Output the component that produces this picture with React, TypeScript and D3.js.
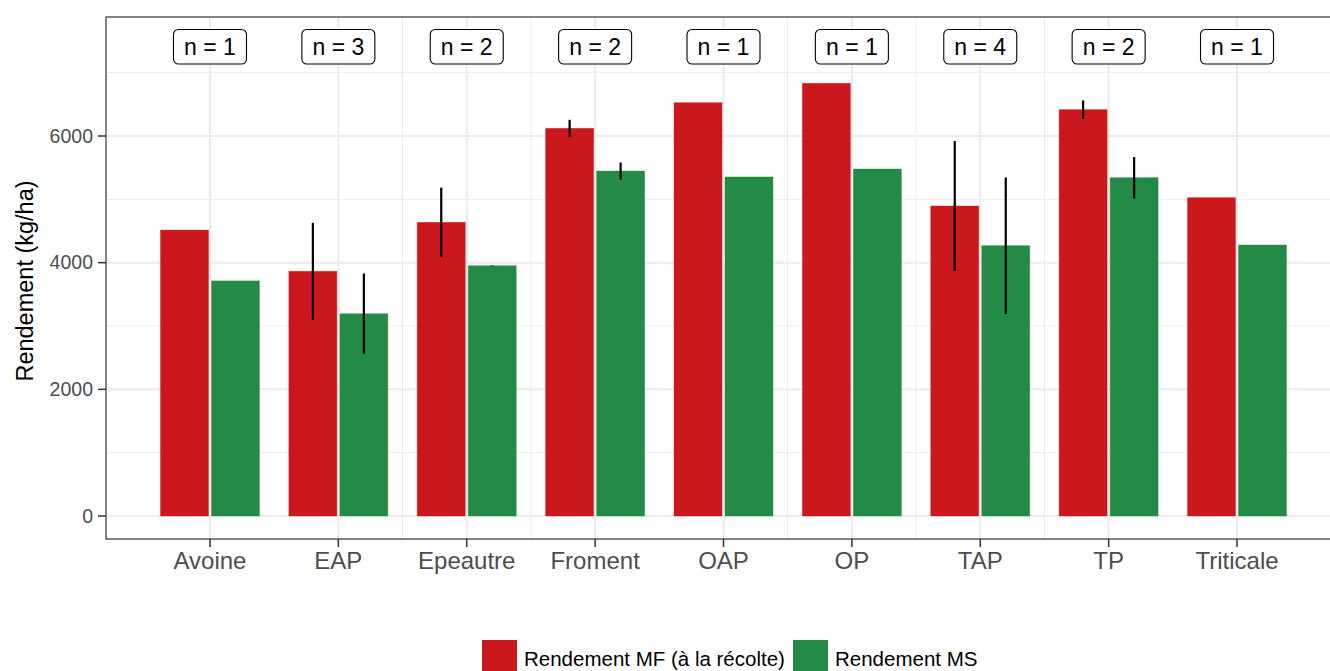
import React from "react";
import * as d3 from "d3";

const categories = ["Avoine", "EAP", "Epeautre", "Froment", "OAP", "OP", "TAP", "TP", "Triticale"];
const mfValues = [4515, 3864, 4637, 6121, 6526, 6832, 4895, 6416, 5026];
const msValues = [3712, 3194, 3952, 5447, 5353, 5479, 4268, 5342, 4279];
const mfSd = [0, 765, 548, 135, 0, 0, 1025, 145, 0];
const msSd = [0, 635, 4, 135, 0, 0, 1078, 325, 0];
const nLabels = ["n = 1", "n = 3", "n = 2", "n = 2", "n = 1", "n = 1", "n = 4", "n = 2", "n = 1"];
const yTicks = [0, 2000, 4000, 6000];
const yMinor = [1000, 3000, 5000, 7000];
const minorGridAfter = ["EAP", "Epeautre", "OAP", "OP", "TAP"];
const seriesNames = ["Rendement MF (à la récolte)", "Rendement MS"];
const seriesColors = ["#CB181D", "#238B45"];

const W = 1330, H = 671;
const panel = { left: 106, right: 1341, top: 17, bottom: 539 };
const FONT = "'Liberation Sans', Arial, Helvetica, sans-serif";

export default function App() {
  const x = d3.scalePoint<string>().domain(categories).range([panel.left, panel.right]).padding(0.81);
  const step = x.step();
  const y = d3.scaleLinear().domain([0, 6000]).range([516, 136]);
  const barW = 48;
  const gap = 1.5;
  const minorX = minorGridAfter.map((c) => (x(c) as number) + step / 2);

  const series = [
    { vals: mfValues, sd: mfSd, off: -1 },
    { vals: msValues, sd: msSd, off: 1 },
  ];

  return (
    <svg width={W} height={H} style={{ position: "absolute", left: 0, top: 0, background: "#fff" }} fontFamily={FONT}>
      <defs>
        <clipPath id="pc">
          <rect x={panel.left} y={panel.top} width={panel.right - panel.left} height={panel.bottom - panel.top} />
        </clipPath>
      </defs>
      <g clipPath="url(#pc)">
        {yMinor.map((v) => (
          <line key={"ym" + v} x1={panel.left} x2={panel.right} y1={y(v)} y2={y(v)} stroke="#ebebeb" strokeWidth={1} />
        ))}
        {minorX.map((v, i) => (
          <line key={"xm" + i} x1={v} x2={v} y1={panel.top} y2={panel.bottom} stroke="#ebebeb" strokeWidth={1} />
        ))}
        {yTicks.map((v) => (
          <line key={"yg" + v} x1={panel.left} x2={panel.right} y1={y(v)} y2={y(v)} stroke="#ebebeb" strokeWidth={2} />
        ))}
        {categories.map((c) => (
          <line key={"xg" + c} x1={x(c)} x2={x(c)} y1={panel.top} y2={panel.bottom} stroke="#ebebeb" strokeWidth={2} />
        ))}
        {series.map((s, si) =>
          categories.map((c, i) => {
            const cx = x(c) as number;
            const x0 = s.off < 0 ? cx - gap - barW : cx + gap;
            return (
              <rect key={"b" + si + c} x={x0} y={y(s.vals[i])} width={barW} height={y(0) - y(s.vals[i])}
                fill={seriesColors[si]} stroke={seriesColors[si]} strokeOpacity={0.5} strokeWidth={0.8} />
            );
          })
        )}
        {series.map((s, si) =>
          categories.map((c, i) => {
            if (!s.sd[i]) return null;
            const cx = (x(c) as number) + s.off * (gap + barW / 2);
            return (
              <line key={"e" + si + c} x1={cx} x2={cx} y1={y(s.vals[i] + s.sd[i])} y2={y(s.vals[i] - s.sd[i])}
                stroke="#000" strokeWidth={2.2} />
            );
          })
        )}
        {categories.map((c, i) => {
          const cx = x(c) as number;
          return (
            <g key={"lab" + c}>
              <rect x={cx - 36.5} y={29.5} width={73} height={34.5} rx={5} fill="#fff" stroke="#000" strokeWidth={1.1} />
              <text x={cx} y={55} textAnchor="middle" fontSize={23} fill="#000">{nLabels[i]}</text>
            </g>
          );
        })}
      </g>
      <rect x={panel.left} y={panel.top} width={panel.right - panel.left} height={panel.bottom - panel.top}
        fill="none" stroke="#333" strokeWidth={1.2} />
      {yTicks.map((v) => (
        <g key={"yt" + v}>
          <line x1={panel.left - 8} x2={panel.left} y1={y(v)} y2={y(v)} stroke="#333" strokeWidth={1.5} />
          <text x={panel.left - 13} y={y(v)} dy="0.35em" textAnchor="end" fontSize={19.5} fill="#4d4d4d">{v}</text>
        </g>
      ))}
      {categories.map((c) => (
        <g key={"xt" + c}>
          <line x1={x(c)} x2={x(c)} y1={panel.bottom} y2={panel.bottom + 8} stroke="#333" strokeWidth={1.5} />
          <text x={x(c)} y={569} textAnchor="middle" fontSize={24} fill="#4d4d4d">{c}</text>
        </g>
      ))}
      <text transform={`translate(33, ${(panel.top + panel.bottom) / 2 + 3}) rotate(-90)`} textAnchor="middle" fontSize={23.5} fill="#000">
        Rendement (kg/ha)
      </text>
      <g>
        <rect x={482} y={640} width={35} height={35} fill={seriesColors[0]} />
        <text x={524} y={666} fontSize={20.5} fill="#000">{seriesNames[0]}</text>
        <rect x={793} y={640} width={35} height={35} fill={seriesColors[1]} />
        <text x={835} y={666} fontSize={20.5} fill="#000">{seriesNames[1]}</text>
      </g>
    </svg>
  );
}
